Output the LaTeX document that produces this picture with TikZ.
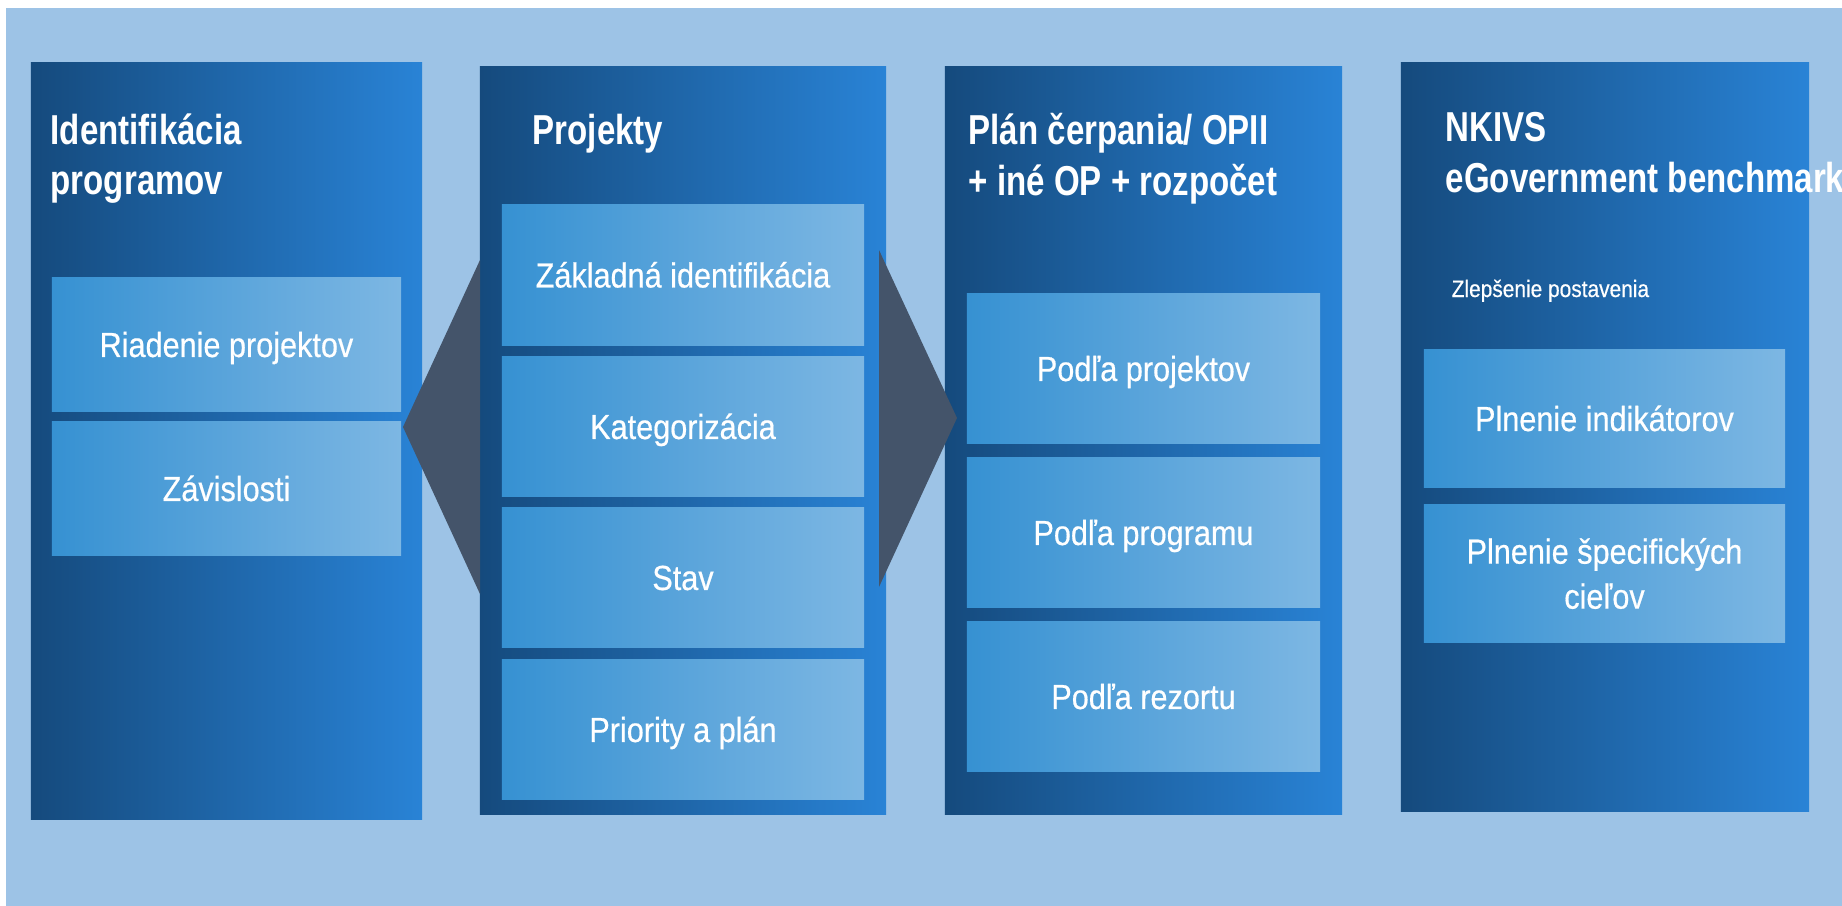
\documentclass[tikz,border=0pt]{standalone}
\usepackage{fontspec}
\setmainfont[FakeStretch=0.88, FakeBold=0.5]{Liberation Sans}
\newfontfamily\headfont[FakeStretch=0.79]{Liberation Sans}
\definecolor{bgblue}{HTML}{9DC3E6}
\definecolor{coldark}{HTML}{154A7D}
\definecolor{colbright}{HTML}{2983D6}
\definecolor{boxdark}{HTML}{3691D2}
\definecolor{boxlight}{HTML}{7DB7E3}
\definecolor{arrowgray}{HTML}{44546A}
\begin{document}
\begin{tikzpicture}[x=0.01cm, y=-0.01cm, line join=round,
	col/.style={inner sep=0pt, left color=coldark, right color=colbright},
	item/.style={inner sep=0pt, left color=boxdark, right color=boxlight, text=white, align=center,
		font=\fontsize{9.9}{12.8}\selectfont, text height=7.1pt, text depth=0pt},
	head/.style={inner sep=0pt, anchor=north west, text=white, align=left,
		font=\headfont\bfseries\fontsize{11.9}{14.3}\selectfont},
	note/.style={inner sep=0pt, anchor=base west, text=white, font=\fontsize{6.75}{8}\selectfont}]
	\useasboundingbox (0,0) rectangle (1842,906);
	\fill[bgblue] (6,8) rectangle (1842,906);
	\node[col, minimum width=3.91cm, minimum height=7.56cm] (prog) at (226.5,441) {};
	\node[col, minimum width=4.06cm, minimum height=7.47cm] (proj) at (683,440.5) {};
	\node[col, minimum width=3.97cm, minimum height=7.47cm] (plan) at (1143.5,440.5) {};
	\node[col, minimum width=4.08cm, minimum height=7.48cm] (nkivs) at (1605,437) {};
	\path
	(480,260) coordinate (LT)
	(403,427) coordinate (LM)
	(480,594) coordinate (LB)
	(879,250) coordinate (RT)
	(957,418) coordinate (RM)
	(879,587) coordinate (RB);
	\fill[arrowgray] (LT)--(LM)--(LB)--cycle (RT)--(RM)--(RB)--cycle;
	\node[head] (progtitle) at (50,113) {Identifikácia\\programov};
	\node[head] (projtitle) at (532,113) {Projekty};
	\node[head] (plantitle) at (968,113) {Plán čerpania/ OPII\\+ iné OP + rozpočet};
	\node[head] (nkivstitle) at (1445,112) {NKIVS\\eGovernment benchmark};
	\node[note] (zlepsenie) at (1451,297) {Zlepšenie postavenia};
	\node[item, minimum width=3.49cm, minimum height=1.33cm] (riadenie) at (226.5,344.5) {Riadenie projektov};
	\node[item, minimum width=3.49cm, minimum height=1.33cm] (zavislosti) at (226.5,488.5) {Závislosti};
	\node[item, minimum width=3.62cm, minimum height=1.40cm] (zakladna) at (683,275) {Základná identifikácia};
	\node[item, minimum width=3.62cm, minimum height=1.40cm] (kategorizacia) at (683,426.5) {Kategorizácia};
	\node[item, minimum width=3.62cm, minimum height=1.40cm] (stav) at (683,577.5) {Stav};
	\node[item, minimum width=3.62cm, minimum height=1.40cm] (priority) at (683,729.5) {Priority a plán};
	\node[item, minimum width=3.53cm, minimum height=1.49cm] (podlaproj) at (1143.5,368.5) {Podľa projektov};
	\node[item, minimum width=3.53cm, minimum height=1.49cm] (podlaprog) at (1143.5,532.5) {Podľa programu};
	\node[item, minimum width=3.53cm, minimum height=1.49cm] (podlarez) at (1143.5,696.5) {Podľa rezortu};
	\node[item, minimum width=3.61cm, minimum height=1.37cm] (indikatory) at (1604.5,418.5) {Plnenie indikátorov};
	\node[item, minimum width=3.61cm, minimum height=1.37cm, text height={}, text depth={}] (ciele) at (1604.5,573.5) {Plnenie špecifických\\cieľov};
\end{tikzpicture}
\end{document}
